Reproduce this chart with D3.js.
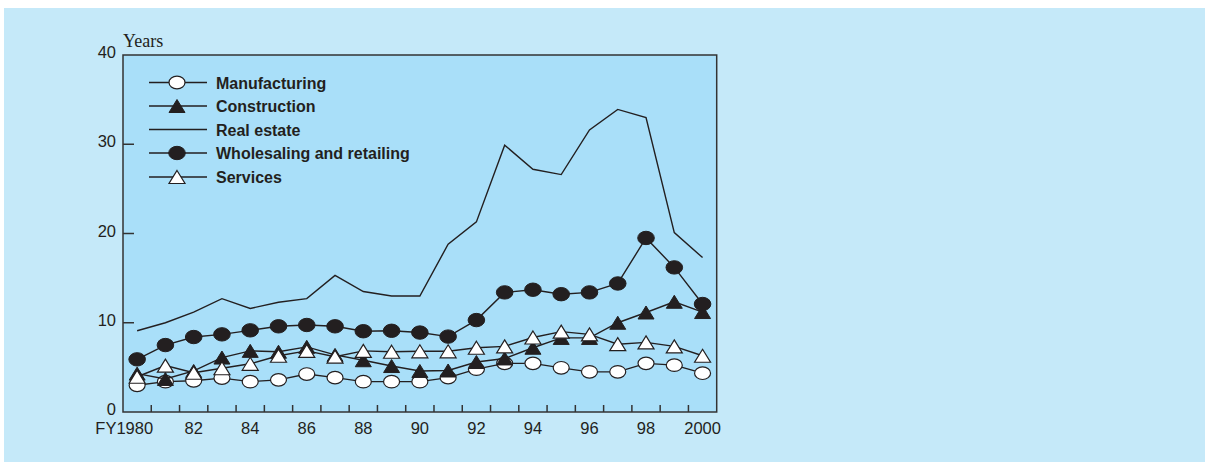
<!DOCTYPE html>
<html>
<head>
<meta charset="utf-8">
<script src="https://cdn.jsdelivr.net/npm/d3@7"></script>
<style>
  html, body { margin: 0; padding: 0; background: #ffffff; }
  svg { display: block; }
</style>
</head>
<body>
<svg id="chart" width="1205" height="462"></svg>
<script>
// Fiscal years on the horizontal axis
const years = d3.range(1980, 2001);

// Average years (series values)
const manufacturing = [3.0, 3.4, 3.5, 3.8, 3.4, 3.6, 4.25, 3.85, 3.4, 3.4, 3.4, 3.85, 4.8, 5.45, 5.45, 4.95, 4.5, 4.5, 5.45, 5.25, 4.35];
const construction  = [4.3, 3.7, 4.6, 6.1, 6.85, 6.75, 7.3, 6.4, 5.8, 5.15, 4.6, 4.65, 5.6, 6.0, 7.2, 8.3, 8.3, 10.0, 11.15, 12.35, 11.2];
const realEstate    = [9.1, 10.0, 11.2, 12.7, 11.6, 12.3, 12.7, 15.3, 13.5, 13.0, 13.0, 18.8, 21.3, 29.9, 27.2, 26.6, 31.6, 33.9, 33.0, 20.1, 17.3];
const wholesale     = [5.9, 7.5, 8.4, 8.7, 9.15, 9.6, 9.75, 9.6, 9.05, 9.1, 8.9, 8.45, 10.3, 13.4, 13.7, 13.2, 13.4, 14.4, 19.5, 16.2, 12.1];
const services      = [3.95, 5.2, 4.4, 4.9, 5.4, 6.3, 6.85, 6.2, 6.85, 6.75, 6.8, 6.8, 7.2, 7.35, 8.35, 9.0, 8.7, 7.6, 7.8, 7.35, 6.3];

// Axis labels
const yTicks = [0, 10, 20, 30, 40];
const xTickLabels = { 1980: "FY1980", 1982: "82", 1984: "84", 1986: "86", 1988: "88",
                      1990: "90", 1992: "92", 1994: "94", 1996: "96", 1998: "98", 2000: "2000" };

// Legend order
const legendNames = ["Manufacturing", "Construction", "Real estate", "Wholesaling and retailing", "Services"];

const INK = "#231f20";
const svg = d3.select("#chart");

// Panel background
svg.append("rect").attr("x", 4).attr("y", 8).attr("width", 1201).attr("height", 454)
  .attr("fill", "#c5e9f9");

const plot = { left: 123, right: 716.7, top: 55, bottom: 412 };

const x = d3.scaleBand().domain(years).range([plot.left, plot.right]);
const y = d3.scaleLinear().domain([0, 40]).range([plot.bottom, plot.top]);
const cx = yr => x(yr) + x.bandwidth() / 2;

// Plot area
svg.append("rect")
  .attr("x", plot.left).attr("y", plot.top)
  .attr("width", plot.right - plot.left).attr("height", plot.bottom - plot.top)
  .attr("fill", "#a9dff9").attr("stroke", "#333333").attr("stroke-width", 1.5);

// Y axis: ticks pointing into the plot
const yAxis = svg.append("g");
yAxis.selectAll("line").data(yTicks.filter(t => t > 0 && t < 40)).join("line")
  .attr("x1", plot.left).attr("x2", plot.left + 11)
  .attr("y1", d => y(d)).attr("y2", d => y(d))
  .attr("stroke", "#333333").attr("stroke-width", 1.5);
yAxis.selectAll("text").data(yTicks).join("text")
  .attr("x", plot.left - 7).attr("y", d => y(d) + 3)
  .attr("text-anchor", "end")
  .attr("font-family", "'Liberation Sans', Arial, sans-serif")
  .attr("font-size", 16.5).attr("fill", INK)
  .text(d => d);

svg.append("text").attr("x", plot.left).attr("y", 47)
  .attr("font-family", "'Liberation Serif', 'Times New Roman', serif")
  .attr("font-size", 18).attr("fill", INK)
  .text("Years");

// X axis: ticks at year boundaries, labels at band centres
const xAxis = svg.append("g");
xAxis.selectAll("line").data(years.slice(1)).join("line")
  .attr("x1", d => x(d)).attr("x2", d => x(d))
  .attr("y1", plot.bottom).attr("y2", plot.bottom - 7)
  .attr("stroke", "#333333").attr("stroke-width", 1.5);
xAxis.selectAll("text").data(years.filter(d => xTickLabels[d])).join("text")
  .attr("x", d => d === 1980 ? cx(d) + 16 : cx(d))
  .attr("y", 433.5)
  .attr("text-anchor", d => d === 1980 ? "end" : "middle")
  .attr("font-family", "'Liberation Sans', Arial, sans-serif")
  .attr("font-size", 16.5).attr("fill", INK)
  .text(d => xTickLabels[d]);

// Marker drawing helpers
const triPath = "M0,-6.5L8,6.5L-8,6.5Z";
function marker(g, kind, px, py) {
  if (kind === "openCircle") {
    g.append("ellipse").attr("cx", px).attr("cy", py).attr("rx", 8).attr("ry", 6.3)
      .attr("fill", "#ffffff").attr("stroke", INK).attr("stroke-width", 1.2);
  } else if (kind === "filledCircle") {
    g.append("ellipse").attr("cx", px).attr("cy", py).attr("rx", 8.3).attr("ry", 6.7)
      .attr("fill", INK).attr("stroke", INK).attr("stroke-width", 1);
  } else if (kind === "filledTri") {
    g.append("path").attr("d", triPath).attr("transform", `translate(${px},${py})`)
      .attr("fill", INK).attr("stroke", INK).attr("stroke-width", 1);
  } else if (kind === "openTri") {
    g.append("path").attr("d", triPath).attr("transform", `translate(${px},${py})`)
      .attr("fill", "#ffffff").attr("stroke", INK).attr("stroke-width", 1.2);
  }
}

const seriesDefs = [
  { name: "Real estate", values: realEstate, kind: null },
  { name: "Manufacturing", values: manufacturing, kind: "openCircle" },
  { name: "Construction", values: construction, kind: "filledTri" },
  { name: "Services", values: services, kind: "openTri" },
  { name: "Wholesaling and retailing", values: wholesale, kind: "filledCircle" }
];

const line = d3.line().x(d => cx(d[0])).y(d => y(d[1]));

seriesDefs.forEach(s => {
  const pts = years.map((yr, i) => [yr, s.values[i]]);
  const g = svg.append("g");
  g.append("path").attr("d", line(pts))
    .attr("fill", "none").attr("stroke", INK).attr("stroke-width", 1.4)
    .attr("stroke-linejoin", "miter");
  if (s.kind) pts.forEach(p => marker(g, s.kind, cx(p[0]), y(p[1])));
});

// Legend
const legendRowY = [82.5, 106, 129.5, 153, 177];
const legend = svg.append("g");
legendNames.forEach((name, i) => {
  const s = seriesDefs.find(d => d.name === name);
  const ly = legendRowY[i];
  legend.append("line").attr("x1", 149).attr("x2", 207).attr("y1", ly).attr("y2", ly)
    .attr("stroke", INK).attr("stroke-width", 1.4);
  if (s.kind) marker(legend, s.kind, 177, ly);
  legend.append("text").attr("x", 216).attr("y", ly + 6)
    .attr("font-family", "'Liberation Sans', Arial, sans-serif")
    .attr("font-weight", "bold").attr("font-size", 16).attr("fill", INK)
    .text(name);
});
</script>
</body>
</html>
